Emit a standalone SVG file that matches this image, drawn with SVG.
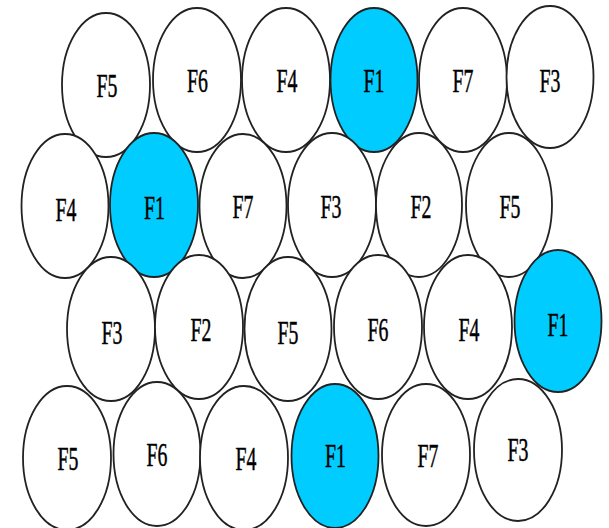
<svg xmlns="http://www.w3.org/2000/svg" width="609" height="528" viewBox="0 0 609 528">
<style>
.c{fill:#ffffff;stroke:#222222;stroke-width:1.8}
.h{fill:#00CCFF}
.t{font-family:"Liberation Serif","Times New Roman",serif;font-size:33px;fill:#000;stroke:#000;stroke-width:0.5;text-anchor:middle}
</style>
<rect width="609" height="528" fill="#ffffff"/>
<g id="connectors"></g>
<g id="r1">
<g id="n1"><ellipse class="c" cx="106" cy="85" rx="44" ry="72"/><text class="t" transform="translate(107,97) scale(0.6,1)">F5</text></g>
<g id="n2"><ellipse class="c" cx="197" cy="80" rx="44" ry="72"/><text class="t" transform="translate(197.5,92) scale(0.6,1)">F6</text></g>
<g id="n3"><ellipse class="c" cx="286" cy="80" rx="44" ry="72"/><text class="t" transform="translate(287,92) scale(0.6,1)">F4</text></g>
<g id="n4"><ellipse class="c h" cx="374" cy="80" rx="43.5" ry="72"/><text class="t" transform="translate(374,92) scale(0.6,1)">F1</text></g>
<g id="n5"><ellipse class="c" cx="463" cy="80" rx="44" ry="72"/><text class="t" transform="translate(463,92) scale(0.6,1)">F7</text></g>
<g id="n6"><ellipse class="c" cx="550" cy="77" rx="43.5" ry="71"/><text class="t" transform="translate(550,92) scale(0.6,1)">F3</text></g>
</g>
<g id="r2">
<g id="n7"><ellipse class="c" cx="65" cy="206" rx="43.5" ry="72"/><text class="t" transform="translate(66,221) scale(0.6,1)">F4</text></g>
<g id="n8"><ellipse class="c h" cx="154" cy="205" rx="44" ry="72"/><text class="t" transform="translate(154.5,219) scale(0.6,1)">F1</text></g>
<g id="n9"><ellipse class="c" cx="243" cy="206" rx="43.5" ry="72"/><text class="t" transform="translate(243,218) scale(0.6,1)">F7</text></g>
<g id="n10"><ellipse class="c" cx="332" cy="205" rx="44" ry="72"/><text class="t" transform="translate(331,218) scale(0.6,1)">F3</text></g>
<g id="n11"><ellipse class="c" cx="419" cy="205" rx="43" ry="72"/><text class="t" transform="translate(421,218) scale(0.6,1)">F2</text></g>
<g id="n12"><ellipse class="c" cx="509" cy="205" rx="43" ry="72"/><text class="t" transform="translate(510,218) scale(0.6,1)">F5</text></g>
</g>
<g id="r3">
<g id="n13"><ellipse class="c" cx="111" cy="329" rx="44" ry="72"/><text class="t" transform="translate(112,344) scale(0.6,1)">F3</text></g>
<g id="n14"><ellipse class="c" cx="199" cy="327" rx="44" ry="72"/><text class="t" transform="translate(201,341) scale(0.6,1)">F2</text></g>
<g id="n15"><ellipse class="c" cx="288" cy="329" rx="43.5" ry="72"/><text class="t" transform="translate(288,344) scale(0.6,1)">F5</text></g>
<g id="n16"><ellipse class="c" cx="378" cy="327" rx="44" ry="72"/><text class="t" transform="translate(378,341) scale(0.6,1)">F6</text></g>
<g id="n17"><ellipse class="c" cx="468" cy="327" rx="44" ry="72"/><text class="t" transform="translate(469,341) scale(0.6,1)">F4</text></g>
<g id="n18"><ellipse class="c h" cx="558" cy="321" rx="43.5" ry="71"/><text class="t" transform="translate(558,336) scale(0.6,1)">F1</text></g>
</g>
<g id="r4">
<g id="n19"><ellipse class="c" cx="67" cy="458" rx="44" ry="72"/><text class="t" transform="translate(68,470) scale(0.6,1)">F5</text></g>
<g id="n20"><ellipse class="c" cx="157" cy="454" rx="43.5" ry="72"/><text class="t" transform="translate(157,466) scale(0.6,1)">F6</text></g>
<g id="n21"><ellipse class="c" cx="244" cy="458" rx="44" ry="72"/><text class="t" transform="translate(246,470) scale(0.6,1)">F4</text></g>
<g id="n22"><ellipse class="c h" cx="335" cy="456" rx="43.5" ry="72"/><text class="t" transform="translate(335.5,467) scale(0.6,1)">F1</text></g>
<g id="n23"><ellipse class="c" cx="426" cy="455" rx="44" ry="71"/><text class="t" transform="translate(428,467) scale(0.6,1)">F7</text></g>
<g id="n24"><ellipse class="c" cx="518" cy="450" rx="44" ry="71"/><text class="t" transform="translate(518,461) scale(0.6,1)">F3</text></g>
</g>
</svg>
